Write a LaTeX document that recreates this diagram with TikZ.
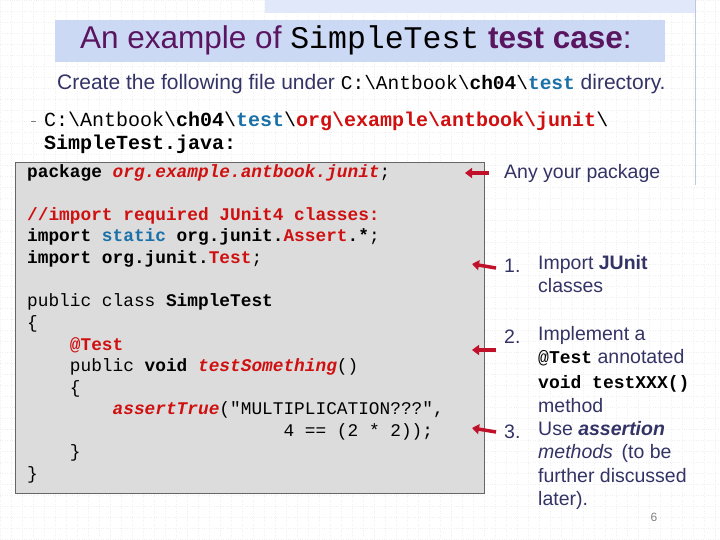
\documentclass[tikz,border=0pt]{standalone}
\usepackage{fontspec}
\setmainfont{Liberation Sans}
\setmonofont{Liberation Mono}
\usetikzlibrary{arrows.meta}
\definecolor{titlebg}{HTML}{CCD9F5}
\definecolor{purp}{HTML}{5A1560}
\definecolor{navy}{HTML}{333366}
\definecolor{codered}{HTML}{D01010}
\definecolor{teal}{HTML}{1A70A8}
\definecolor{codebg}{HTML}{DCDCDC}
\definecolor{arrred}{HTML}{C0102A}
\begin{document}
\begin{tikzpicture}[x=1pt,y=-1pt,
  code/.style={anchor=west,inner sep=0pt,font=\fontsize{17.8}{17.8}\ttfamily},
  rt/.style={anchor=west,inner sep=0pt,text=navy,font=\fontsize{19.5}{23.5}\selectfont},
  arr/.style={-{Triangle[length=7pt,width=10pt]},line width=3.5pt,arrred}]
\useasboundingbox (0,0) rectangle (720,540);
\fill[white] (0,0) rectangle (720,540);
\draw[gray!12,dotted] (0,0) grid[step=11pt] (720,540);
\fill[titlebg!60] (265,0) rectangle (695,13);
\draw[titlebg!80!gray,line width=1pt] (695,0) -- (695,185);
\fill[titlebg] (55,20) rectangle (665,62);
\node[anchor=west,inner sep=0pt,text=purp,font=\fontsize{31.5}{31.5}\selectfont] (title) at (80,40)
 {An example of {\color{black}\ttfamily SimpleTest} \textbf{test case}:};
\node[rt,font=\fontsize{21}{21}\selectfont] (create) at (57,84) {Create the following file under {\ttfamily\fontsize{19.5}{19.5}\selectfont\color{black}C:\textbackslash Antbook\textbackslash \textbf{ch04}\textbackslash{\color{teal}\textbf{test}}} directory.};
\draw[gray,line width=0.6pt] (31,121) -- (36,121);
\node[code,font=\fontsize{20}{20}\ttfamily] (path) at (44,121) {C:\textbackslash Antbook\textbackslash \textbf{ch04}\textbackslash{\color{teal}\textbf{test}}\textbackslash{\color{codered}\textbf{org\textbackslash example\textbackslash antbook\textbackslash junit}}\textbackslash};
\node[code,font=\fontsize{20}{20}\ttfamily\bfseries] (file) at (44,144) {SimpleTest.java:};
\draw[fill=codebg,draw=gray!80!black,line width=0.8pt] (15,162) rectangle (484,493);
\node[code] (c1) at (27,173) {\textbf{package} {\color{codered}\bfseries\itshape org.example.antbook.junit};};
\node[code] (c2) at (27,216) {\color{codered}\bfseries //import required JUnit4 classes:};
\node[code] (c3) at (27,237) {\textbf{import} {\color{teal}\bfseries static} \textbf{org.junit.{\color{codered}Assert}.*};};
\node[code] (c4) at (27,259) {\textbf{import} \textbf{org.junit.{\color{codered}Test}};};
\node[code] (c5) at (27,302) {public class \textbf{SimpleTest}};
\node[code] (c6) at (27,324) {\{};
\node[code] (c7) at (27,345) {\phantom{xxxx}{\color{codered}\bfseries @Test}};
\node[code] (c8) at (27,367) {\phantom{xxxx}public \textbf{void} {\color{codered}\bfseries\itshape testSomething}()};
\node[code] (c9) at (27,389) {\phantom{xxxx}\{};
\node[code] (c10) at (27,410) {\phantom{xxxxxxxx}{\color{codered}\bfseries\itshape assertTrue}("MULTIPLICATION???",};
\node[code] (c11) at (27,432) {\phantom{xxxxxxxxxxxxxxxxxxxxxxxx}4 == (2 * 2));};
\node[code] (c12) at (27,453) {\phantom{xxxx}\}};
\node[code] (c13) at (27,475) {\}};
\node[rt] (pkg) at (504,173) {Any your package};
\node[rt] (n1) at (504,266) {1.};
\node[rt,align=left,anchor=north west] (t1) at (538,255) {Import \textbf{JUnit}\\classes};
\node[rt] (n2) at (504,337) {2.};
\node[rt,align=left,anchor=north west] (t2) at (538,326) {Implement a\\{\ttfamily\fontsize{18}{18}\selectfont\color{black}@\textbf{Test}} annotated\\[1pt]{\ttfamily\bfseries\fontsize{18}{18}\selectfont\color{black}void testXXX()}\\[1pt]method};
\node[rt] (n3) at (504,432) {3.};
\node[rt,align=left,anchor=north west] (t3) at (538,421) {Use \textbf{\textit{assertion}}\\\textit{methods}\, (to be\\further discussed\\later).};
\node[anchor=center,inner sep=0pt,text=gray,font=\fontsize{12}{12}\selectfont] (pg) at (654,517) {6};
\coordinate (a1) at (489,173); \coordinate (b1) at (465,173);
\coordinate (a2) at (496,268); \coordinate (b2) at (472,264);
\coordinate (a3) at (496,350); \coordinate (b3) at (472,350);
\coordinate (a4) at (496,432); \coordinate (b4) at (472,428);
\draw[arr] (a1) -- (b1);
\draw[arr] (a2) -- (b2);
\draw[arr] (a3) -- (b3);
\draw[arr] (a4) -- (b4);
\end{tikzpicture}
\end{document}
